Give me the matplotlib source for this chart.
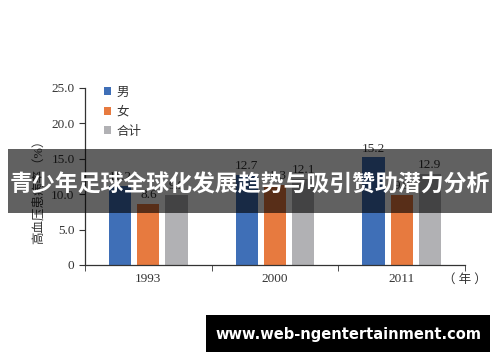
import matplotlib.pyplot as plt
import numpy as np
from matplotlib.patches import Rectangle

# ── Data ──────────────────────────────────────────────────────────────────────
years = ["1993", "2000", "2011"]
male = [11.2, 12.7, 15.2]
female = [8.6, 11.3, 9.9]
total = [9.9, 12.1, 12.9]
series_names = ["男", "女", "合计"]
y_ticks = [0, 5.0, 10.0, 15.0, 20.0, 25.0]

COLORS = ["#3F6FB7", "#E77A3F", "#B1B1B4"]
FONT = ["Liberation Serif", "Noto Sans CJK SC"]

plt.rcParams["font.family"] = FONT

fig = plt.figure(figsize=(5.0, 3.62), dpi=100)
ax = fig.add_axes([0.17, 0.268, 0.76, 0.489])

x = np.arange(len(years))
width = 0.175
step = 0.222
for i, (vals, name) in enumerate(zip([male, female, total], series_names)):
    pos = x + (i - 1) * step
    ax.bar(pos, vals, width, color=COLORS[i], label=name, zorder=2)
    for p, v in zip(pos, vals):
        ax.text(p, v + 0.4, f"{v:.1f}", ha="center", va="bottom",
                fontsize=9.5, color="#333333")

ax.set_xlim(-0.5, len(years) - 0.5)
ax.set_ylim(0, 25)
ax.set_yticks(y_ticks)
ax.set_yticklabels(["0" if t == 0 else f"{t:.1f}" for t in y_ticks])
ax.set_xticks(x)
ax.set_xticklabels(years)
ax.set_xticks(np.arange(len(years) + 1) - 0.5, minor=True)
ax.tick_params(axis="x", which="major", length=0, labelsize=9.5, pad=6)
ax.tick_params(axis="x", which="minor", length=4, direction="out", color="#333333")
ax.tick_params(axis="y", length=4, labelsize=9.5, color="#333333", labelcolor="#333333")
ax.tick_params(axis="x", labelcolor="#333333")
for s in ["top", "right"]:
    ax.spines[s].set_visible(False)
for s in ["left", "bottom"]:
    ax.spines[s].set_color("#333333")
    ax.spines[s].set_linewidth(0.9)

ax.set_ylabel("高血压患病率（%）", fontsize=9, color="#333333")
ax.yaxis.set_label_coords(-0.105, 0.43)
ax.text(1.0, -0.085, "（ 年 ）", transform=ax.transAxes, ha="center", va="center",
        fontsize=9, color="#333333")

leg = ax.legend(loc="upper left", bbox_to_anchor=(0.02, 1.07), frameon=False,
                fontsize=9, handlelength=0.6, handleheight=0.6,
                handletextpad=0.4, labelspacing=0.6)
for t in leg.get_texts():
    t.set_color("#333333")

# ── Overlays: title banner and site box ──────────────────────────────────────
fig.patches.append(Rectangle((8 / 500, 1 - 213 / 362), 484 / 500, 64 / 362,
                             transform=fig.transFigure, facecolor="black",
                             linewidth=0, alpha=0.62, zorder=10))
fig.text(0.5, 1 - 185 / 362, "青少年足球全球化发展趋势与吸引赞助潜力分析",
         ha="center", va="center", color="white", fontsize=16.5,
         fontweight="bold", family=["Noto Sans CJK SC"], zorder=11)

fig.patches.append(Rectangle((206 / 500, 1 - 352 / 362), 284 / 500, 37 / 362,
                             transform=fig.transFigure, facecolor="black",
                             linewidth=0, zorder=10))
fig.text(348 / 500, 1 - 334 / 362, "www.web-ngentertainment.com",
         ha="center", va="center", color="white", fontsize=10.5,
         fontweight="bold", family=["DejaVu Sans"], zorder=11)

fig.savefig("out.png", dpi=100)
